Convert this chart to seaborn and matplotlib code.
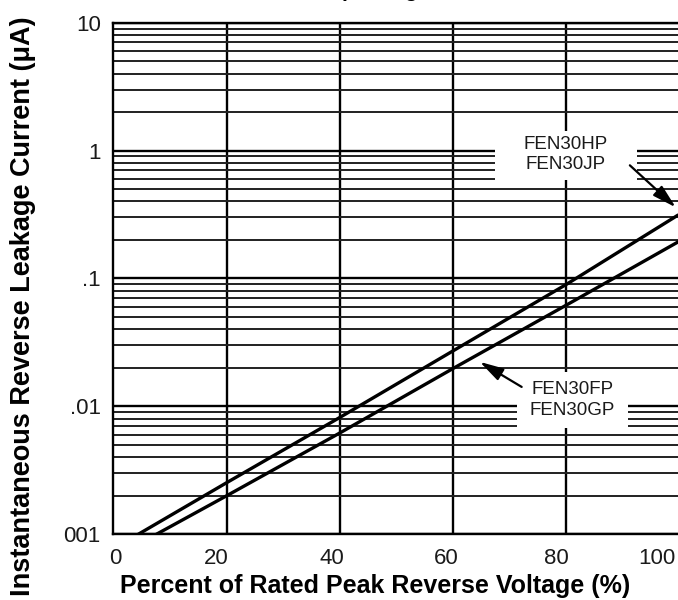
import pandas as pd
import matplotlib
matplotlib.use("Agg")
import matplotlib.pyplot as plt
from matplotlib.patches import Rectangle
from matplotlib.ticker import LogLocator, NullFormatter
import seaborn as sns

# leakage curves (% of rated voltage, uA)
pct_hp = [4.4, 20, 40, 60, 80, 99.7]
leak_hp = [0.001, 0.00253, 0.0082, 0.0272, 0.090, 0.313]
pct_fp = [7.6, 20, 40, 60, 80, 99.7]
leak_fp = [0.001, 0.00200, 0.0062, 0.0198, 0.062, 0.193]

parts = ["FEN30HP / FEN30JP", "FEN30FP / FEN30GP"]
labels_hp = "FEN30HP\nFEN30JP"
labels_fp = "FEN30FP\nFEN30GP"

# tick labels as they sit in the scan (slightly off the grid lines)
xtick_pos = [0.3, 18.1, 38.6, 58.7, 78.3, 96.0]
xtick_txt = ["0", "20", "40", "60", "80", "100"]
xgrid = [20, 40, 60, 80]
ytick_pos = [10, 1, 0.1, 0.01, 0.001]
ytick_txt = ["10", "1", ".1", ".01", "001"]

df = pd.DataFrame({
    "pct": pct_hp + pct_fp,
    "leak": leak_hp + leak_fp,
    "part": [parts[0]] * len(pct_hp) + [parts[1]] * len(pct_fp),
})

sns.set_theme(style="white")
plt.rcParams["font.family"] = ["Liberation Sans", "DejaVu Sans"]

fig = plt.figure(figsize=(6.78, 6), dpi=100)
ax = fig.add_axes([0.1671, 0.1095, 0.8329, 0.8527])

sns.lineplot(data=df, x="pct", y="leak", hue="part", palette=["black", "black"],
             linewidth=2.4, legend=False, sort=False, ax=ax)

ax.set_yscale("log")
ax.set_xlim(0, 99.7)
ax.set_ylim(0.001, 10)

ax.set_xticks(xtick_pos, xtick_txt)
ax.set_xticks(xgrid, minor=True)
ax.set_yticks(ytick_pos, ytick_txt)
ax.yaxis.set_minor_locator(LogLocator(base=10, subs=range(2, 10)))
ax.yaxis.set_minor_formatter(NullFormatter())
ax.tick_params(which="both", length=0)
ax.tick_params(axis="x", pad=10, labelsize=16, colors="#1a1a1a")
ax.tick_params(axis="y", pad=9, labelsize=16, colors="#1a1a1a")

ax.xaxis.grid(True, which="minor", color="black", linewidth=1.7)
ax.xaxis.grid(False, which="major")
ax.yaxis.grid(True, which="major", color="black", linewidth=1.7)
ax.yaxis.grid(True, which="minor", color="#202020", linewidth=1.4)

for s in ["left", "bottom", "top"]:
    ax.spines[s].set_color("black")
    ax.spines[s].set_linewidth(1.7)
ax.spines["right"].set_visible(False)

ax.set_xlabel("Percent of Rated Peak Reverse Voltage (%)", fontsize=18,
              fontweight="bold", color="black")
ax.xaxis.set_label_coords(0.463, -0.078)
ax.set_ylabel("Instantaneous Reverse Leakage Current (\u03bcA)", fontsize=19.5,
              fontweight="bold", color="black")
ax.yaxis.set_label_coords(-0.137, 0.445)

# white patches where the grid is broken around the part labels
ax.add_patch(Rectangle((0.676, 0.6925), 0.251, 0.095, transform=ax.transAxes,
                       facecolor="white", edgecolor="none", zorder=1.5))
ax.add_patch(Rectangle((0.7145, 0.2078), 0.197, 0.1094, transform=ax.transAxes,
                       facecolor="white", edgecolor="none", zorder=1.5))

ax.text(79.9, 0.93, labels_hp, ha="center", va="center", fontsize=13.5,
        color="#1a1a1a", linespacing=1.25, zorder=3)
ax.text(81.0, 0.0112, labels_fp, ha="center", va="center", fontsize=13.5,
        color="#1a1a1a", linespacing=1.25, zorder=3)

arrow = dict(arrowstyle="-|>,head_length=0.8,head_width=0.22", color="black",
             lw=1.6, mutation_scale=18, shrinkA=0, shrinkB=0)
ax.annotate("", xy=(99.3, 0.36), xytext=(91.2, 0.767), arrowprops=arrow, zorder=3)
ax.annotate("", xy=(64.7, 0.0223), xytext=(72.1, 0.0142), arrowprops=arrow, zorder=3)

# bottom of the title line that the crop cut off
fig.text(0.561, 1.005, "per Leg", ha="center", va="baseline", fontsize=15,
         fontweight="bold", color="black")

fig.savefig("out.png", dpi=100)
